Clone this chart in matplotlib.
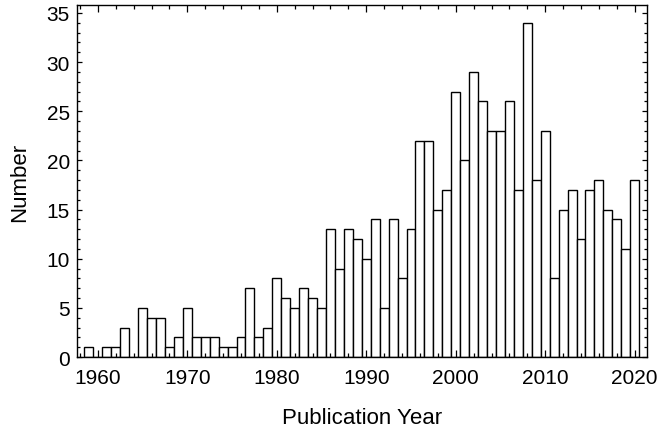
import matplotlib
matplotlib.use("Agg")
import matplotlib.pyplot as plt
from matplotlib.ticker import MultipleLocator

plt.rcParams['font.family'] = ['Liberation Sans', 'DejaVu Sans']

years = list(range(1959, 2021))
counts = [1, 0, 1, 1, 3, 0, 5, 4, 4, 1,
          2, 5, 2, 2, 2, 1, 1, 2, 7, 2,
          3, 8, 6, 5, 7, 6, 5, 13, 9, 13,
          12, 10, 14, 5, 14, 8, 13, 22, 22, 15,
          17, 27, 20, 29, 26, 23, 23, 26, 17, 34,
          18, 23, 8, 15, 17, 12, 17, 18, 15, 14,
          11, 18]

fig = plt.figure(figsize=(6.62, 4.35), dpi=100)
ax = fig.add_axes([0.116, 0.177, 0.861, 0.809])

ax.bar(years, counts, width=1.0, color="white", edgecolor="black", linewidth=1.0)

ax.set_xlim(1957.65, 2021.35)
ax.set_ylim(0, 35.8)

ax.xaxis.set_major_locator(MultipleLocator(10))
ax.xaxis.set_minor_locator(MultipleLocator(2))
ax.yaxis.set_major_locator(MultipleLocator(5))
ax.yaxis.set_minor_locator(MultipleLocator(1))

ax.tick_params(which="both", direction="in", top=True, right=True, width=0.9, labelsize=15)
ax.tick_params(axis="x", which="major", length=5, pad=8)
ax.tick_params(axis="x", which="minor", length=3)
ax.tick_params(axis="y", which="major", length=3.5, pad=5)
ax.tick_params(axis="y", which="minor", length=2.3)

for s in ax.spines.values():
    s.set_linewidth(1.0)

ax.set_xlabel("Publication Year", fontsize=16, labelpad=14)
ax.set_ylabel("Number", fontsize=16, labelpad=12)

fig.savefig("out.png", dpi=100)
